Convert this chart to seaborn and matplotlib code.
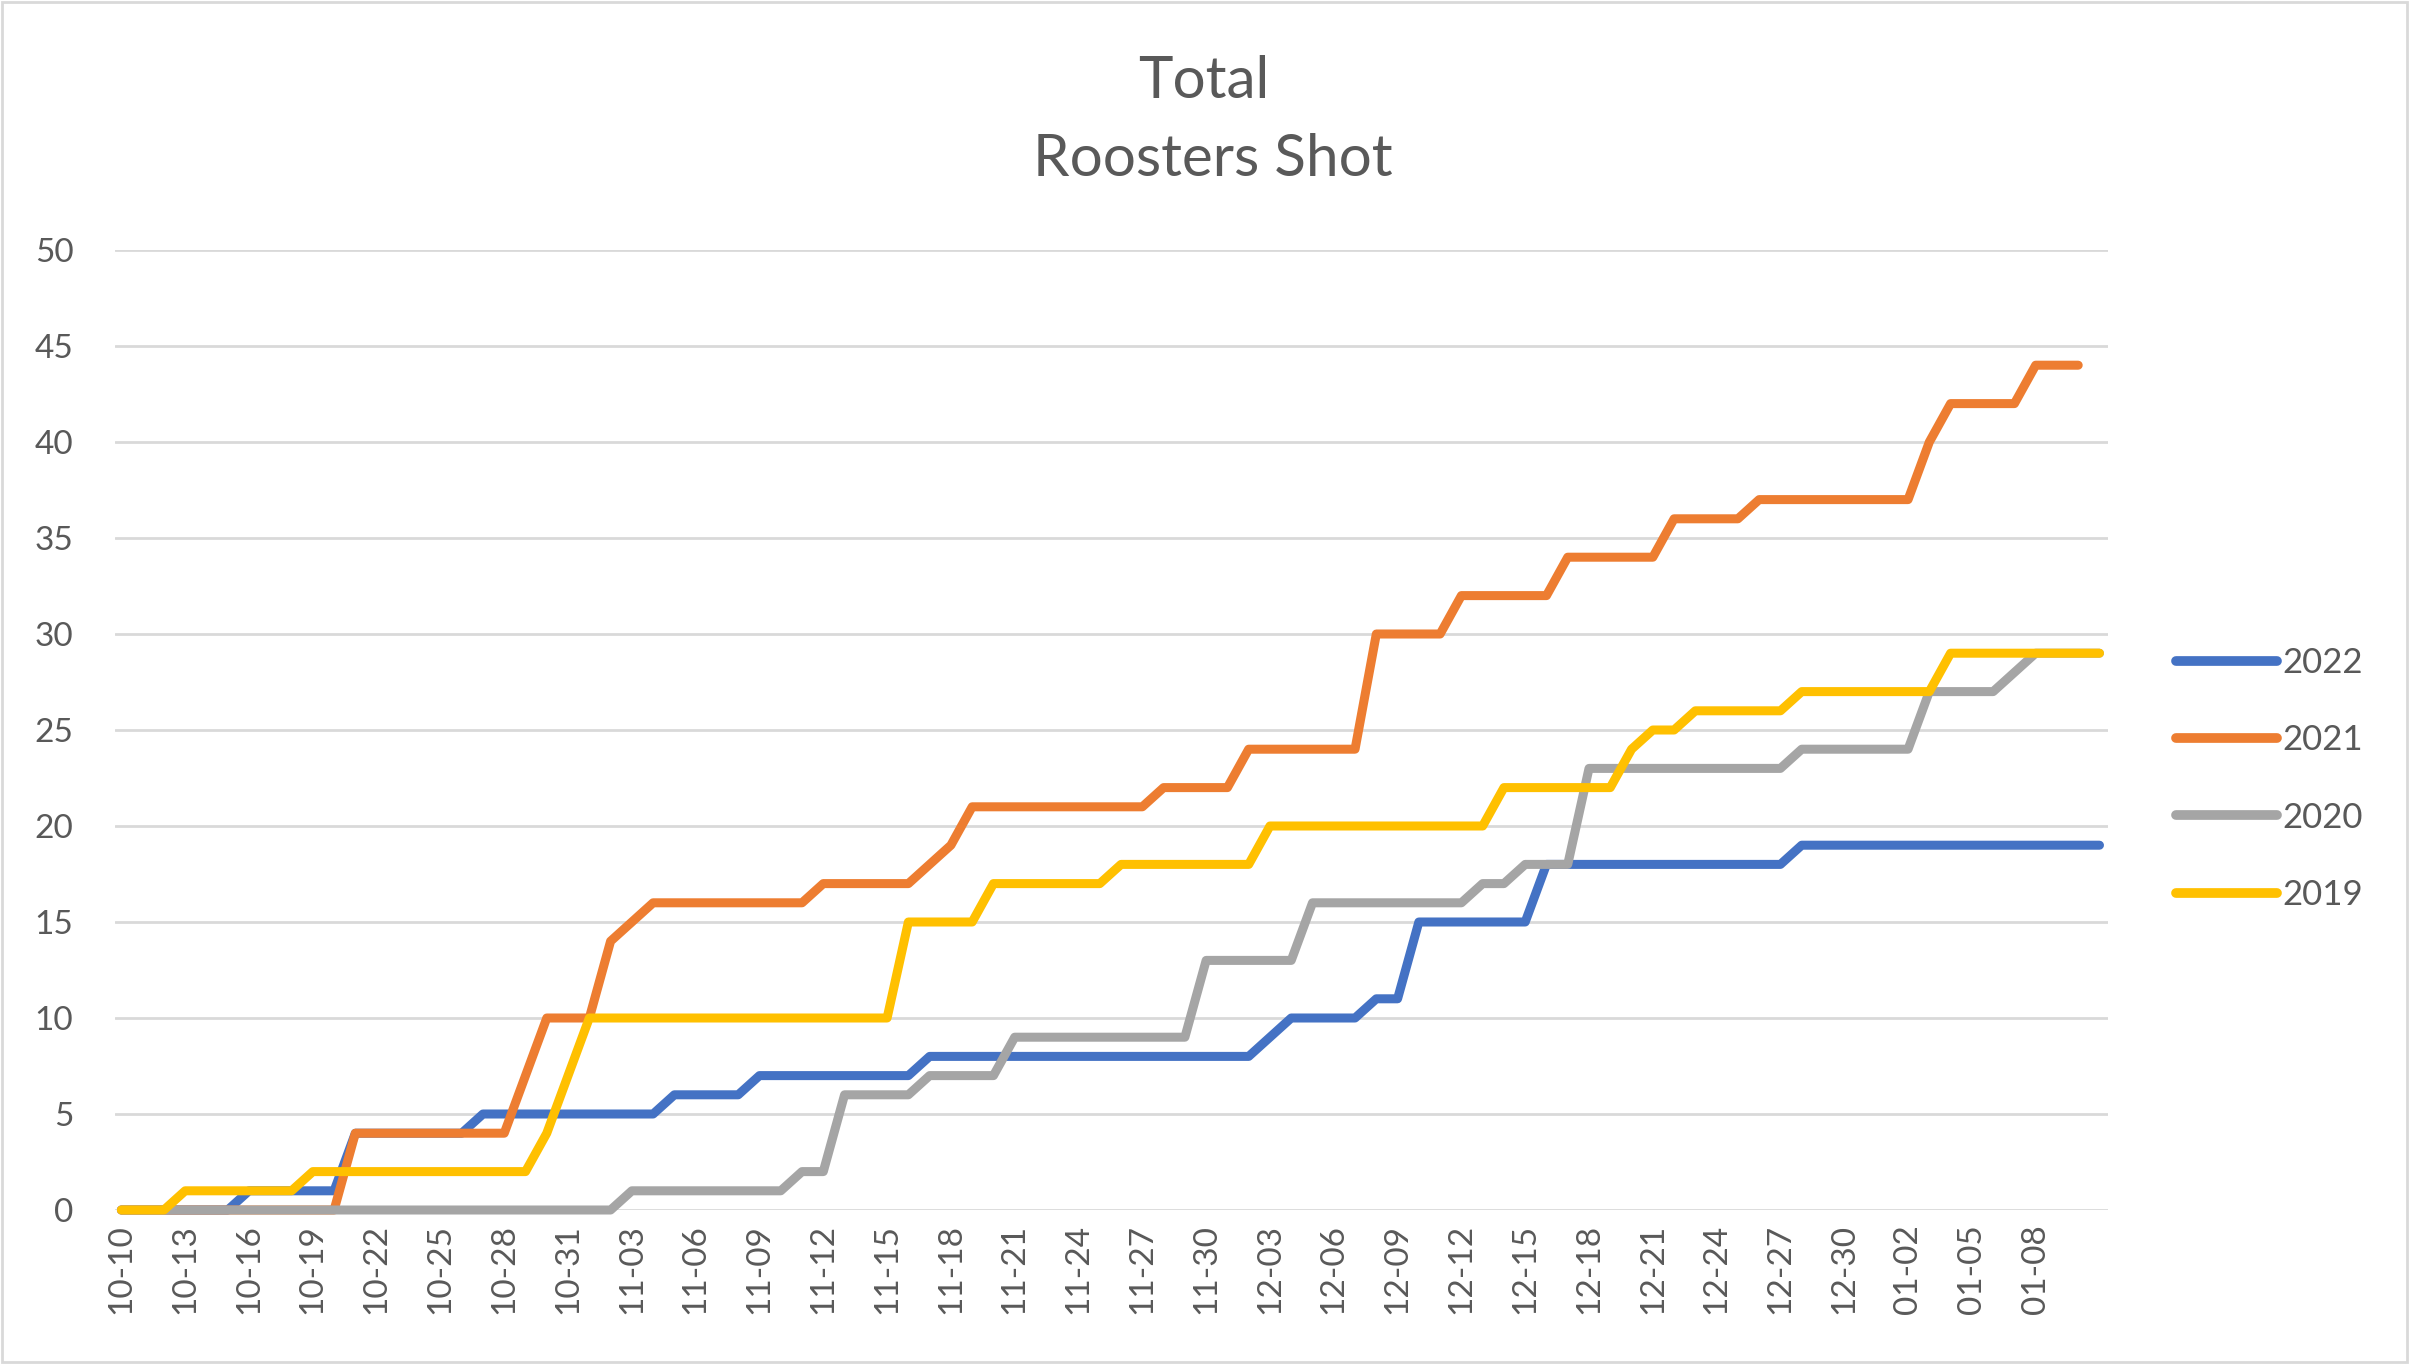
import matplotlib
matplotlib.use("Agg")
import matplotlib.pyplot as plt
import seaborn as sns
import pandas as pd
import numpy as np
from matplotlib.patches import Rectangle

# ---------------- data ----------------
dates = [
    "10-10", "10-11", "10-12", "10-13", "10-14", "10-15", "10-16", "10-17", "10-18", "10-19",
    "10-20", "10-21", "10-22", "10-23", "10-24", "10-25", "10-26", "10-27", "10-28", "10-29",
    "10-30", "10-31",
    "11-01", "11-02", "11-03", "11-04", "11-05", "11-06", "11-07", "11-08", "11-09", "11-10",
    "11-11", "11-12", "11-13", "11-14", "11-15", "11-16", "11-17", "11-18", "11-19", "11-20",
    "11-21", "11-22", "11-23", "11-24", "11-25", "11-26", "11-27", "11-28", "11-29", "11-30",
    "12-01", "12-02", "12-03", "12-04", "12-05", "12-06", "12-07", "12-08", "12-09", "12-10",
    "12-11", "12-12", "12-13", "12-14", "12-15", "12-16", "12-17", "12-18", "12-19", "12-20",
    "12-21", "12-22", "12-23", "12-24", "12-25", "12-26", "12-27", "12-28", "12-29", "12-30",
    "12-31",
    "01-01", "01-02", "01-03", "01-04", "01-05", "01-06", "01-07", "01-08", "01-09", "01-10",
    "01-11",
]

y2022 = [0, 0, 0, 0, 0, 0, 1, 1, 1, 1,
         1, 4, 4, 4, 4, 4, 4, 5, 5, 5,
         5, 5, 5, 5, 5, 5, 6, 6, 6, 6,
         7, 7, 7, 7, 7, 7, 7, 7, 8, 8,
         8, 8, 8, 8, 8, 8, 8, 8, 8, 8,
         8, 8, 8, 8, 9, 10, 10, 10, 10, 11,
         11, 15, 15, 15, 15, 15, 15, 18, 18, 18,
         18, 18, 18, 18, 18, 18, 18, 18, 18, 19,
         19, 19, 19, 19, 19, 19, 19, 19, 19, 19,
         19, 19, 19, 19]

y2021 = [0, 0, 0, 0, 0, 0, 0, 0, 0, 0,
         0, 4, 4, 4, 4, 4, 4, 4, 4, 7,
         10, 10, 10, 14, 15, 16, 16, 16, 16, 16,
         16, 16, 16, 17, 17, 17, 17, 17, 18, 19,
         21, 21, 21, 21, 21, 21, 21, 21, 21, 22,
         22, 22, 22, 24, 24, 24, 24, 24, 24, 30,
         30, 30, 30, 32, 32, 32, 32, 32, 34, 34,
         34, 34, 34, 36, 36, 36, 36, 37, 37, 37,
         37, 37, 37, 37, 37, 40, 42, 42, 42, 42,
         44, 44, 44, None]

y2020 = [0, 0, 0, 0, 0, 0, 0, 0, 0, 0,
         0, 0, 0, 0, 0, 0, 0, 0, 0, 0,
         0, 0, 0, 0, 1, 1, 1, 1, 1, 1,
         1, 1, 2, 2, 6, 6, 6, 6, 7, 7,
         7, 7, 9, 9, 9, 9, 9, 9, 9, 9,
         9, 13, 13, 13, 13, 13, 16, 16, 16, 16,
         16, 16, 16, 16, 17, 17, 18, 18, 18, 23,
         23, 23, 23, 23, 23, 23, 23, 23, 23, 24,
         24, 24, 24, 24, 24, 27, 27, 27, 27, 28,
         29, 29, 29, 29]

y2019 = [0, 0, 0, 1, 1, 1, 1, 1, 1, 2,
         2, 2, 2, 2, 2, 2, 2, 2, 2, 2,
         4, 7, 10, 10, 10, 10, 10, 10, 10, 10,
         10, 10, 10, 10, 10, 10, 10, 15, 15, 15,
         15, 17, 17, 17, 17, 17, 17, 18, 18, 18,
         18, 18, 18, 18, 20, 20, 20, 20, 20, 20,
         20, 20, 20, 20, 20, 22, 22, 22, 22, 22,
         22, 24, 25, 25, 26, 26, 26, 26, 26, 27,
         27, 27, 27, 27, 27, 27, 29, 29, 29, 29,
         29, 29, 29, 29]

series_names = ["2022", "2021", "2020", "2019"]
series_values = [y2022, y2021, y2020, y2019]
colors = ["#4472C4", "#ED7D31", "#A5A5A5", "#FFC000"]
title_lines = ["Total", "Roosters Shot"]
y_ticks = [0, 5, 10, 15, 20, 25, 30, 35, 40, 45, 50]
x_tick_labels = ["10-10", "10-13", "10-16", "10-19", "10-22", "10-25", "10-28", "10-31",
                 "11-03", "11-06", "11-09", "11-12", "11-15", "11-18", "11-21", "11-24",
                 "11-27", "11-30", "12-03", "12-06", "12-09", "12-12", "12-15", "12-18",
                 "12-21", "12-24", "12-27", "12-30", "01-02", "01-05", "01-08"]

# ---------------- long-form table ----------------
rows = []
for name, vals in zip(series_names, series_values):
    for i, v in enumerate(vals):
        rows.append({"idx": i, "date": dates[i], "value": np.nan if v is None else v, "year": name})
df = pd.DataFrame(rows)

# ---------------- styling ----------------
sns.set_theme(style="white")
plt.rcParams["font.family"] = ["Lato", "DejaVu Sans"]
text_color = "#595959"
grid_color = "#D9D9D9"
lw = 6.5

W, H = 2409, 1364
fig = plt.figure(figsize=(W / 100, H / 100), dpi=100)
left, right = 115 / W, 2108 / W
bottom, top = 1 - 1210 / H, 1 - 250 / H
ax = fig.add_axes([left, bottom, right - left, top - bottom])

sns.lineplot(data=df, x="idx", y="value", hue="year", hue_order=series_names,
             palette=colors, linewidth=lw, sort=False, ax=ax, legend=True)

for line in ax.get_lines():
    line.set_solid_capstyle("round")
    line.set_solid_joinstyle("round")
    line.set_clip_on(False)

ax.set_xlim(-0.3, 93.4)
ax.set_ylim(0, 50)
ax.set_yticks(y_ticks)
ax.set_yticklabels([str(t) for t in y_ticks])
tick_pos = [dates.index(d) for d in x_tick_labels]
ax.set_xticks(tick_pos)
ax.set_xticklabels(x_tick_labels, rotation=90)

ax.grid(axis="y", color=grid_color, linewidth=2.0)
ax.set_axisbelow(True)
for s in ax.spines.values():
    s.set_visible(False)
ax.tick_params(axis="y", length=0, pad=30, labelsize=24, labelcolor=text_color)
ax.tick_params(axis="x", length=0, pad=10, labelsize=24, labelcolor=text_color)
ax.set_xlabel("")
ax.set_ylabel("")

# legend
handles, labels = ax.get_legend_handles_labels()
ax.get_legend().remove()
leg = fig.legend(handles, labels, loc="center left", bbox_to_anchor=(2176 / W, 1 - 779 / H),
                 frameon=False, fontsize=25, labelcolor=text_color, handlelength=2.9,
                 handletextpad=0.15, labelspacing=1.3, borderpad=0, borderaxespad=0)
for h in leg.get_lines():
    h.set_linewidth(7.0)
    h.set_solid_capstyle("round")

# title
fig.text(1204 / W, 1 - 82 / H, title_lines[0], ha="center", va="center", fontsize=42, color=text_color)
fig.text(1213 / W, 1 - 160 / H, title_lines[1], ha="center", va="center", fontsize=42, color=text_color)

# chart border
fig.patches.append(Rectangle((0.0008, 0.0015), 0.9984, 0.997, transform=fig.transFigure,
                             fill=False, edgecolor=grid_color, linewidth=2.0))

fig.savefig("out.png", dpi=100, facecolor="white")
